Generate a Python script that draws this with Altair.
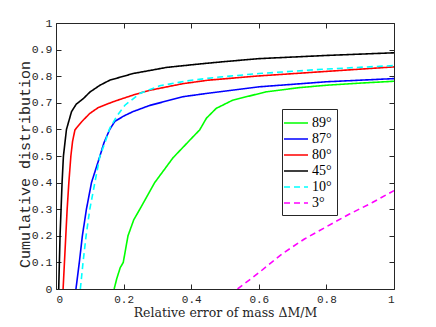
import altair as alt
import pandas as pd

series_names = ["89°", "87°", "80°", "45°", "10°", "3°"]
series_colors = ["#00ff00", "#0000ff", "#ff0000", "#000000", "#00ffff", "#ff00ff"]
series_dashes = [[1, 0], [1, 0], [1, 0], [1, 0], [6, 4], [6, 4]]

x_89 = [0.172, 0.18, 0.19, 0.199, 0.213, 0.23, 0.248, 0.27, 0.292, 0.346, 0.4, 0.425, 0.435, 0.445, 0.474, 0.523, 0.621, 0.72, 0.8, 0.9, 1.0]
y_89 = [0.0, 0.04, 0.08, 0.1, 0.2, 0.26, 0.3, 0.35, 0.4, 0.493, 0.565, 0.598, 0.62, 0.642, 0.679, 0.71, 0.741, 0.757, 0.766, 0.774, 0.781]

x_87 = [0.059, 0.069, 0.078, 0.09, 0.105, 0.13, 0.142, 0.159, 0.174, 0.2, 0.228, 0.277, 0.376, 0.45, 0.6, 0.8, 1.0]
y_87 = [0.0, 0.1, 0.2, 0.3, 0.4, 0.5, 0.55, 0.6, 0.63, 0.65, 0.667, 0.69, 0.723, 0.736, 0.76, 0.779, 0.791]

x_80 = [0.021, 0.025, 0.029, 0.033, 0.038, 0.044, 0.049, 0.056, 0.076, 0.1, 0.125, 0.169, 0.228, 0.277, 0.376, 0.45, 0.6, 0.8, 1.0]
y_80 = [0.0, 0.1, 0.2, 0.3, 0.4, 0.5, 0.555, 0.598, 0.629, 0.66, 0.682, 0.704, 0.729, 0.747, 0.772, 0.785, 0.801, 0.818, 0.835]

x_45 = [0.008, 0.012, 0.018, 0.022, 0.031, 0.046, 0.06, 0.081, 0.1, 0.13, 0.159, 0.228, 0.327, 0.425, 0.5, 0.6, 0.7, 0.8, 0.9, 1.0]
y_45 = [0.0, 0.2, 0.4, 0.5, 0.6, 0.667, 0.695, 0.716, 0.74, 0.766, 0.785, 0.81, 0.833, 0.846, 0.855, 0.866, 0.872, 0.878, 0.883, 0.888]

x_10 = [0.072, 0.08, 0.089, 0.1, 0.115, 0.13, 0.145, 0.159, 0.18, 0.204, 0.248, 0.307, 0.4, 0.484, 0.6, 0.8, 1.0]
y_10 = [0.0, 0.1, 0.2, 0.3, 0.4, 0.5, 0.55, 0.604, 0.65, 0.691, 0.735, 0.764, 0.785, 0.797, 0.81, 0.827, 0.84]

x_3 = [0.537, 0.602, 0.671, 0.735, 0.8, 0.867, 0.936, 1.0]
y_3 = [0.0, 0.063, 0.134, 0.188, 0.234, 0.281, 0.325, 0.37]

x_ticks = [0, 0.2, 0.4, 0.6, 0.8, 1]
y_ticks = [0, 0.1, 0.2, 0.3, 0.4, 0.5, 0.6, 0.7, 0.8, 0.9, 1]

all_x = [x_89, x_87, x_80, x_45, x_10, x_3]
all_y = [y_89, y_87, y_80, y_45, y_10, y_3]

rows = []
for name, xs, ys in zip(series_names, all_x, all_y):
    for i, (xv, yv) in enumerate(zip(xs, ys)):
        rows.append({"series": name, "x": xv, "y": yv, "order": i})
df = pd.DataFrame(rows)

W, H = 338, 266
AX = "#262626"
xscale = alt.Scale(domain=[0, 1], nice=False, zero=False)
yscale = alt.Scale(domain=[0, 1], nice=False, zero=False)

legend = alt.Legend(
    title=None, orient="none", legendX=226, legendY=86,
    symbolType="M-1.5,0L1.5,0", symbolSize=256, symbolStrokeWidth=1.6,
    labelFont="Liberation Serif", labelFontSize=14, labelColor="#000000",
    labelOffset=7, rowPadding=0, padding=5,
    strokeColor=AX, fillColor="#ffffff",
)

lines = alt.Chart(df).mark_line(strokeWidth=1.6, clip=True).encode(
    x=alt.X("x:Q", scale=xscale, axis=alt.Axis(
        title="Relative error of mass ΔM/M", values=x_ticks, format="~g",
        tickSize=0, domain=False, grid=False, labelPadding=4,
        labelFont="Liberation Mono", labelFontSize=11, labelColor=AX,
        titleFont="DejaVu Serif", titleFontSize=12.5, titleFontWeight="normal",
        titleColor=AX, titleBaseline="alphabetic", titleY=27)),
    y=alt.Y("y:Q", scale=yscale, axis=alt.Axis(
        title="Cumulative distribution", values=y_ticks, format="~g",
        tickSize=0, domain=False, grid=False, labelPadding=4,
        labelFont="Liberation Mono", labelFontSize=11.5, labelColor=AX,
        titleFont="Liberation Mono", titleFontSize=15, titleFontWeight="normal",
        titleColor=AX, titleBaseline="alphabetic", titleX=-27, titleY=141)),
    color=alt.Color("series:N", sort=series_names,
                    scale=alt.Scale(domain=series_names, range=series_colors), legend=legend),
    strokeDash=alt.StrokeDash("series:N", sort=series_names,
                              scale=alt.Scale(domain=series_names, range=series_dashes), legend=legend),
    order="order:Q",
)

ticks_a = alt.Chart(df).mark_point(opacity=0).encode(
    x=alt.X("x:Q", scale=xscale, axis=alt.Axis(
        orient="top", offset=-H, values=x_ticks, labels=False, title=None,
        domain=False, grid=False, tickSize=5, tickColor=AX)),
    y=alt.Y("y:Q", scale=yscale, axis=alt.Axis(
        orient="right", offset=-W, values=y_ticks, labels=False, title=None,
        domain=False, grid=False, tickSize=5, tickColor=AX)),
)

ticks_b = alt.Chart(df).mark_point(opacity=0).encode(
    x=alt.X("x:Q", scale=xscale, axis=alt.Axis(
        orient="bottom", offset=-H, values=x_ticks, labels=False, title=None,
        domain=False, grid=False, tickSize=5, tickColor=AX)),
    y=alt.Y("y:Q", scale=yscale, axis=alt.Axis(
        orient="left", offset=-W, values=y_ticks, labels=False, title=None,
        domain=False, grid=False, tickSize=5, tickColor=AX)),
)

chart = alt.layer(lines, ticks_a, ticks_b).resolve_axis(
    x="independent", y="independent"
).properties(
    width=W, height=H,
    autosize=alt.AutoSizeParams(type="none"),
    padding={"left": 48, "top": 15, "right": 34, "bottom": 30},
    background="#ffffff",
).configure_view(stroke=AX, strokeWidth=1)

chart.save("out.html", embed_options={"renderer": "svg", "actions": False})
